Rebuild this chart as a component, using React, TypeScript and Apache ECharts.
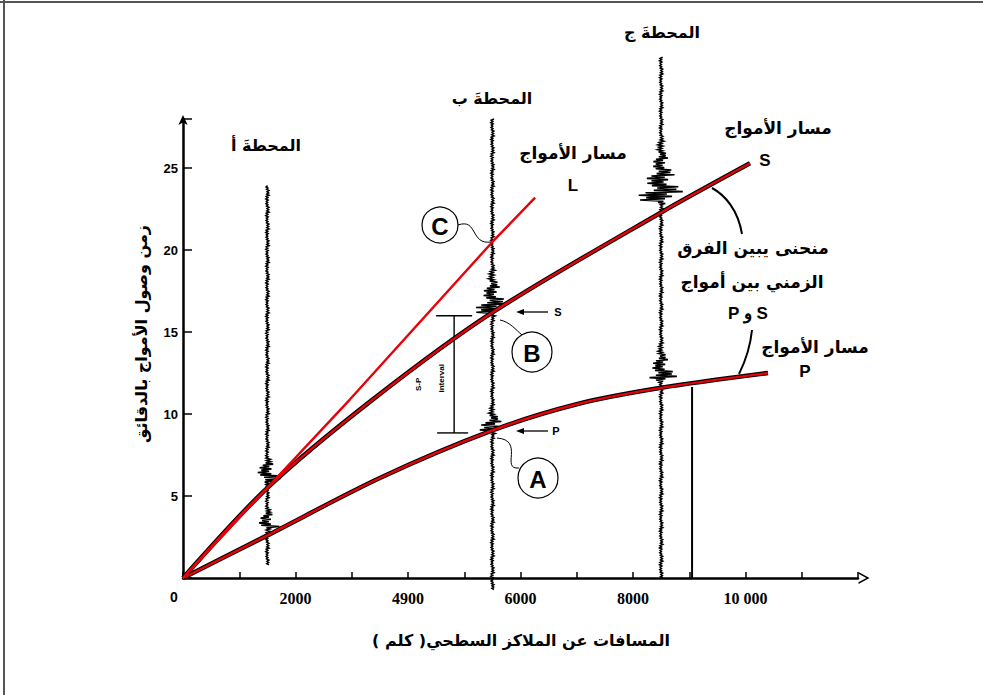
import React, { useEffect, useRef } from "react";
import * as echarts from "echarts";

// ---- data ----
const xTickValues = [0, 2000, 4000, 6000, 8000, 10000];
const xTickLabels = ["0", "2000", "4900", "6000", "8000", "10 000"];
const yTickLabels = [5, 10, 15, 20, 25];

const pCurve = [[0, 0], [1500, 2.6], [3500, 6.1], [5500, 9.0], [7000, 10.6], [8500, 11.6], [10400, 12.5]];
const sCurve = [[0, 0], [1500, 5.5], [3360, 10.85], [5500, 16.2], [8500, 22.3], [10080, 25.3]];
const lCurve = [[0, 0], [2970, 10.9], [5500, 20.5], [6260, 23.2]];

const seisKm = [1500, 5500, 8500];
const seisBottom = [0.8, -0.7, 0];
const seisTop = [24, 28, 31.8];
const pArrival = [3.1, 9.0, 12.1];
const sArrival = [6.0, 16.2, 23.0];
const pAmpKm = [220, 260, 290];
const sAmpKm = [310, 330, 450];
const pCoda = [1.4, 1.6, 2.4];
const sCoda = [1.6, 3.0, 4.2];

const extraTrace = [[9050, 0], [9050, 11.65]];
const spInterval = { km: 4820, s: 16.0, p: 8.85 };

const PAT = [1, 0.35, 0.75, 0.2, 0.9, 0.5, 0.3, 0.8, 0.15, 0.6, 0.45, 0.95, 0.25, 0.7];

const AR = '"DejaVu Sans", sans-serif';
const LAT = '"Liberation Sans", Arial, sans-serif';
const SERIF = '"Liberation Serif", "Times New Roman", serif';

const xLabel = (v: number) => {
  const i = xTickValues.indexOf(v);
  return i >= 0 ? xTickLabels[i] : "";
};

function txt(x: number, y: number, text: string, size = 17, font = AR, weight = "bold", extra: any = {}) {
  return {
    type: "text",
    x,
    y,
    silent: true,
    ...extra,
    style: { text, fill: "#000", fontSize: size, fontFamily: font, fontWeight: weight, align: "center", verticalAlign: "middle" },
  };
}

export default function App() {
  const ref = useRef<HTMLDivElement>(null);
  useEffect(() => {
    if (!ref.current) return;
    const chart = echarts.init(ref.current, null, { renderer: "svg" });
    const chevron = "path://M6,0 L12,11 L10.2,11 L6,3.2 L1.8,11 L0,11 Z";

    const seisRender = (params: any, api: any) => {
      const i = params.dataIndex;
      const km = api.value(0), t0 = api.value(1), t1 = api.value(2);
      const pb = api.coord([km, t0]);
      const pt = api.coord([km, t1]);
      const kmPx = api.size([1000, 0])[0] / 1000;
      const bursts = [
        { arr: pArrival[i], amp: pAmpKm[i] * kmPx, len: pCoda[i] },
        { arr: sArrival[i], amp: sAmpKm[i] * kmPx, len: sCoda[i] },
      ];
      const pxPerT = (pb[1] - pt[1]) / (t1 - t0);
      const pts: number[][] = [];
      let k = 0;
      for (let y = pb[1]; y >= pt[1]; y -= 1.2, k++) {
        const t = t0 + (pb[1] - y) / pxPerT;
        let env = 1.6;
        for (const b of bursts) {
          const d = t - b.arr;
          if (d >= -0.3 && d < 0) env += b.amp * 0.25 * (1 + d / 0.3);
          else if (d >= 0 && d < b.len) env += b.amp * Math.pow(1 - d / b.len, 1.6);
        }
        const f = PAT[k % PAT.length];
        const sgn = k % 2 === 0 ? 1 : -1;
        pts.push([pb[0] + sgn * env * f, y]);
      }
      return { type: "polyline", silent: true, shape: { points: pts }, style: { stroke: "#000", lineWidth: 1.6, fill: null } };
    };

    const spRender = (params: any, api: any) => {
      const a = api.coord([spInterval.km, spInterval.s]);
      const b = api.coord([spInterval.km, spInterval.p]);
      const st = { stroke: "#000", lineWidth: 1.4 };
      return {
        type: "group",
        children: [
          { type: "line", shape: { x1: a[0] - 18, y1: a[1], x2: a[0] + 18, y2: a[1] }, style: st },
          { type: "line", shape: { x1: b[0] - 17, y1: b[1], x2: b[0] + 14, y2: b[1] }, style: st },
          { type: "line", shape: { x1: a[0], y1: a[1], x2: b[0], y2: b[1] }, style: st },
          { type: "text", x: a[0] - 36, y: (a[1] + b[1]) / 2 + 10, rotation: Math.PI / 2, style: { text: "S-P", fontSize: 8, fontWeight: "bold", fontFamily: LAT, fill: "#000", align: "center", verticalAlign: "middle" } },
          { type: "text", x: a[0] - 13, y: (a[1] + b[1]) / 2 + 4, rotation: Math.PI / 2, style: { text: "interval", fontSize: 8, fontWeight: "bold", fontFamily: LAT, fill: "#000", align: "center", verticalAlign: "middle" } },
        ],
      };
    };

    const blackUnder = (data: number[][]) => ({
      type: "line", data, symbol: "none", smooth: 0.3, silent: true,
      lineStyle: { color: "#000", width: 4.5 },
    });
    const redOver = (data: number[][], smooth = 0.3) => ({
      type: "line", data, symbol: "none", smooth, silent: true,
      lineStyle: { color: "#e8000b", width: 2.4 },
    });

    const graphic: any[] = [
      { type: "line", shape: { x1: 0, y1: 2, x2: 983, y2: 2 }, style: { stroke: "#555", lineWidth: 2 }, silent: true },
      { type: "line", shape: { x1: 4, y1: 0, x2: 4, y2: 695 }, style: { stroke: "#555", lineWidth: 2 }, silent: true },
      txt(266, 145, "المحطةَ أ", 16),
      txt(492, 98, "المحطةَ ب", 16),
      txt(662, 32, "المحطةَ ج", 16),
      txt(573, 153, "مسار الأمواج"),
      txt(573, 185, "L", 17, LAT, "bold"),
      txt(778, 128, "مسار الأمواج"),
      txt(765, 160, "S", 17, LAT, "bold"),
      txt(753, 248, "منحنى يبين الفرق"),
      txt(752, 282, "الزمني بين أمواج"),
      txt(748, 313, "P و S", 17, LAT, "bold"),
      txt(815, 347, "مسار الأمواج"),
      txt(805, 371, "P", 17, LAT, "bold"),
      txt(141, 334, "زمن وصول الأمواج بالدقائق", 16, AR, "bold", { rotation: Math.PI / 2 }),
      txt(521, 640, "المسافات عن الملاكز السطحي( كلم )\u200F", 16),
      // circles
      { type: "circle", shape: { cx: 440, cy: 225, r: 18 }, style: { fill: "none", stroke: "#000", lineWidth: 1.2 }, silent: true },
      txt(440, 226, "C", 24, LAT, "bold"),
      { type: "circle", shape: { cx: 532, cy: 352, r: 20 }, style: { fill: "none", stroke: "#000", lineWidth: 1.2 }, silent: true },
      txt(532, 353, "B", 24, LAT, "bold"),
      { type: "circle", shape: { cx: 538, cy: 478, r: 20 }, style: { fill: "none", stroke: "#000", lineWidth: 1.2 }, silent: true },
      txt(538, 479, "A", 24, LAT, "bold"),
      // leaders
      { type: "bezierCurve", shape: { x1: 458, y1: 225, cpx1: 478, cpy1: 218, cpx2: 470, cpy2: 245, x2: 491, y2: 242 }, style: { stroke: "#000", lineWidth: 1, fill: "none" }, silent: true },
      { type: "bezierCurve", shape: { x1: 500, y1: 320, cpx1: 510, cpy1: 322, cpx2: 516, cpy2: 330, x2: 522, y2: 335 }, style: { stroke: "#000", lineWidth: 1, fill: "none" }, silent: true },
      { type: "bezierCurve", shape: { x1: 497, y1: 438, cpx1: 525, cpy1: 440, cpx2: 500, cpy2: 470, x2: 519, y2: 468 }, style: { stroke: "#000", lineWidth: 1, fill: "none" }, silent: true },
      { type: "bezierCurve", shape: { x1: 742, y1: 234, cpx1: 738, cpy1: 210, cpx2: 725, cpy2: 195, x2: 712, y2: 188 }, style: { stroke: "#000", lineWidth: 2, fill: "none" }, silent: true },
      { type: "bezierCurve", shape: { x1: 752, y1: 330, cpx1: 750, cpy1: 350, cpx2: 745, cpy2: 362, x2: 739, y2: 374 }, style: { stroke: "#000", lineWidth: 2, fill: "none" }, silent: true },
      // small S / P arrows at station B
      { type: "line", shape: { x1: 548, y1: 312, x2: 520, y2: 312 }, style: { stroke: "#000", lineWidth: 1.3 }, silent: true },
      { type: "polygon", shape: { points: [[516, 312], [524, 309], [524, 315]] }, style: { fill: "#000" }, silent: true },
      txt(558, 312, "S", 11, LAT, "bold"),
      { type: "line", shape: { x1: 548, y1: 431, x2: 520, y2: 431 }, style: { stroke: "#000", lineWidth: 1.3 }, silent: true },
      { type: "polygon", shape: { points: [[516, 431], [524, 428], [524, 434]] }, style: { fill: "#000" }, silent: true },
      txt(556, 431, "P", 11, LAT, "bold"),
    ];

    chart.setOption({
      animation: false,
      backgroundColor: "#fff",
      grid: { left: 183, right: 125, top: 119, bottom: 117, containLabel: false },
      xAxis: {
        type: "value", min: 0, max: 12000, interval: 1000,
        axisLine: { show: true, lineStyle: { color: "#000", width: 2.5 }, symbol: ["none", chevron], symbolSize: [12, 14], symbolOffset: [0, 6] },
        axisTick: { show: true, inside: true, length: 6, lineStyle: { color: "#000", width: 1.5 } },
        axisLabel: {
          formatter: (v: number) => (v === 0 ? "{z|0}" : xLabel(v)),
          fontFamily: SERIF, fontWeight: "bold", fontSize: 16, color: "#000", margin: 12,
          rich: { z: { fontFamily: LAT, fontWeight: "bold", fontSize: 14, color: "#000", padding: [0, 18, 0, 0] } },
        },
        splitLine: { show: false },
      },
      yAxis: {
        type: "value", min: 0, max: 28, interval: 5,
        axisLine: { show: true, lineStyle: { color: "#000", width: 2.5 }, symbol: ["none", "arrow"], symbolSize: [7, 10], symbolOffset: [0, 4] },
        axisTick: { show: true, inside: true, length: 9, lineStyle: { color: "#000", width: 1.5 } },
        axisLabel: { formatter: (v: number) => (yTickLabels.indexOf(v) >= 0 ? String(v) : ""), fontFamily: LAT, fontWeight: "bold", fontSize: 13, color: "#000", margin: 5 },
        splitLine: { show: false },
      },
      graphic,
      series: [
        {
          type: "custom", name: "seismograms", renderItem: seisRender, clip: false, silent: true,
          encode: { x: 0, y: [1, 2] },
          data: seisKm.map((km, i) => [km, seisBottom[i], seisTop[i]]),
        },
        { type: "line", data: extraTrace, symbol: "none", silent: true, lineStyle: { color: "#000", width: 2 } },
        { type: "custom", name: "sp", renderItem: spRender, silent: true, data: [[spInterval.km, spInterval.s]] },
        blackUnder(pCurve),
        blackUnder(sCurve),
        redOver(pCurve),
        redOver(sCurve),
        redOver(lCurve, 0),
      ],
    });
    return () => chart.dispose();
  }, []);
  return <div ref={ref} style={{ width: 983, height: 695, position: "absolute", left: 0, top: 0 }} />;
}
